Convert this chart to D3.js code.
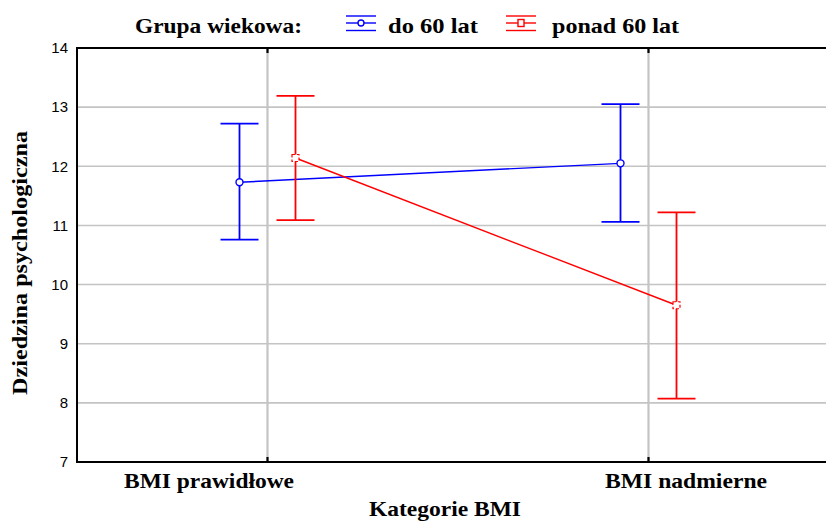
<!DOCTYPE html>
<html>
<head>
<meta charset="utf-8">
<script src="https://cdn.jsdelivr.net/npm/d3@7"></script>
<style>
  body { margin: 0; background: #fff; }
  svg { display: block; }
</style>
</head>
<body>
<div id="chart"></div>
<script>
// dane
const categories = ["BMI prawidłowe", "BMI nadmierne"];
const groups     = ["do 60 lat", "ponad 60 lat"];
const meanYoung  = [11.73, 12.05];
const lowYoung   = [10.76, 11.06];
const highYoung  = [12.72, 13.05];
const meanOld    = [12.14, 9.65];
const lowOld     = [11.09, 8.07];
const highOld    = [13.19, 11.22];
const yTicks     = [7, 8, 9, 10, 11, 12, 13, 14];

const WIDTH = 826, HEIGHT = 522;
const LEFT = 77, TOP = 48, BOTTOM = 462, RIGHT = 839;
const COLORS = ["#0000ff", "#ff0000"];
const OFFSET = [-28, 28];
const CAP = 19;

const svg = d3.select("#chart")
              .append("svg")
              .attr("width", WIDTH)
              .attr("height", HEIGHT);

const x = d3.scalePoint().domain(categories).range([LEFT, RIGHT]).padding(0.5);
const y = d3.scaleLinear().domain([7, 14]).range([BOTTOM, TOP]);

// siatka pozioma
svg.append("g")
   .selectAll("line")
   .data(yTicks.slice(1))
   .enter()
   .append("line")
       .attr("x1", LEFT).attr("x2", WIDTH)
       .attr("y1", d => y(d)).attr("y2", d => y(d))
       .attr("stroke", "#c4c4c4")
       .attr("stroke-width", 1.6);

// siatka pionowa
svg.append("g")
   .selectAll("line")
   .data(categories)
   .enter()
   .append("line")
       .attr("x1", d => x(d)).attr("x2", d => x(d))
       .attr("y1", TOP).attr("y2", BOTTOM)
       .attr("stroke", "#c4c4c4")
       .attr("stroke-width", 2.2);

// oś Y
const yAxis = d3.axisLeft(y).tickValues(yTicks).tickFormat(d3.format("d")).tickSize(0).tickPadding(9);
const gy = svg.append("g")
              .attr("transform", "translate(" + LEFT + ",0)")
              .call(yAxis);
gy.select(".domain").remove();
gy.selectAll("text")
  .attr("font-family", "Liberation Sans, Arial, sans-serif")
  .attr("font-size", 15)
  .attr("fill", "#000");

// ramka
svg.append("path")
   .attr("d", "M" + WIDTH + "," + TOP + "H" + LEFT + "V" + BOTTOM + "H" + WIDTH)
   .attr("fill", "none")
   .attr("stroke", "#000")
   .attr("stroke-width", 2);

// znaczniki kategorii na górze i dole
categories.forEach(c => {
    svg.append("line").attr("x1", x(c)).attr("x2", x(c)).attr("y1", TOP).attr("y2", TOP + 5)
       .attr("stroke", "#000").attr("stroke-width", 2.2);
    svg.append("line").attr("x1", x(c)).attr("x2", x(c)).attr("y1", BOTTOM - 5).attr("y2", BOTTOM)
       .attr("stroke", "#000").attr("stroke-width", 2.2);
});

// serie
const series = [
    { name: groups[0], mean: meanYoung, low: lowYoung, high: highYoung },
    { name: groups[1], mean: meanOld,   low: lowOld,   high: highOld }
];

series.forEach((s, i) => {
    const g = svg.append("g");
    const color = COLORS[i];
    const px = c => x(c) + OFFSET[i];

    // linia łącząca średnie
    g.append("path")
     .datum(categories)
     .attr("d", d3.line().x(c => px(c)).y((c, k) => y(s.mean[k])))
     .attr("fill", "none")
     .attr("stroke", color)
     .attr("stroke-width", 1.4);

    // słupki błędów
    categories.forEach((c, k) => {
        g.append("line").attr("x1", px(c)).attr("x2", px(c))
         .attr("y1", y(s.low[k])).attr("y2", y(s.high[k]))
         .attr("stroke", color).attr("stroke-width", 1.8);
        [s.low[k], s.high[k]].forEach(v => {
            g.append("line").attr("x1", px(c) - CAP).attr("x2", px(c) + CAP)
             .attr("y1", y(v)).attr("y2", y(v))
             .attr("stroke", color).attr("stroke-width", 1.8);
        });
        if (i === 0) {
            g.append("circle").attr("cx", px(c)).attr("cy", y(s.mean[k])).attr("r", 3.5)
             .attr("fill", "#fff").attr("stroke", color).attr("stroke-width", 1.4);
        } else {
            g.append("rect").attr("x", px(c) - 3.5).attr("y", y(s.mean[k]) - 3.5)
             .attr("width", 7).attr("height", 7)
             .attr("fill", "#fff").attr("stroke", color).attr("stroke-width", 1.2)
             .attr("stroke-dasharray", "3,2");
        }
    });
});

// legenda
const serif = "Liberation Serif, Times New Roman, serif";
svg.append("text").attr("x", 135).attr("y", 33)
   .attr("font-family", serif).attr("font-weight", "bold").attr("font-size", 22)
   .attr("textLength", 167).attr("lengthAdjust", "spacingAndGlyphs")
   .text("Grupa wiekowa:");

const legendX = [346, 506];
const legendTextX = [388, 552];
const legendLen = [90, 127];
groups.forEach((name, i) => {
    const lx = legendX[i], color = COLORS[i];
    const lg = svg.append("g").attr("stroke", color).attr("stroke-width", 1.4).attr("fill", "#fff");
    lg.append("line").attr("x1", lx).attr("x2", lx + 30).attr("y1", 16).attr("y2", 16);
    lg.append("line").attr("x1", lx).attr("x2", lx + 30).attr("y1", 30.5).attr("y2", 30.5);
    lg.append("line").attr("x1", lx).attr("x2", lx + 12).attr("y1", 23).attr("y2", 23);
    lg.append("line").attr("x1", lx + 18).attr("x2", lx + 30).attr("y1", 23).attr("y2", 23);
    if (i === 0) {
        lg.append("circle").attr("cx", lx + 15).attr("cy", 23).attr("r", 3);
    } else {
        lg.append("rect").attr("x", lx + 12).attr("y", 19.5).attr("width", 6).attr("height", 7);
    }
    svg.append("text").attr("x", legendTextX[i]).attr("y", 33)
       .attr("font-family", serif).attr("font-weight", "bold").attr("font-size", 22)
       .attr("textLength", legendLen[i]).attr("lengthAdjust", "spacingAndGlyphs")
       .text(name);
});

// etykiety kategorii
const labelStart = [124, 605];
const labelLen = [170, 162];
categories.forEach((c, k) => {
    svg.append("text").attr("x", labelStart[k]).attr("y", 488)
       .attr("font-family", serif).attr("font-weight", "bold").attr("font-size", 21)
       .attr("textLength", labelLen[k]).attr("lengthAdjust", "spacingAndGlyphs")
       .text(c);
});

svg.append("text").attr("x", 369).attr("y", 516)
   .attr("font-family", serif).attr("font-weight", "bold").attr("font-size", 21)
   .attr("textLength", 152).attr("lengthAdjust", "spacingAndGlyphs")
   .text("Kategorie BMI");

svg.append("text")
   .attr("transform", "translate(27,263) rotate(-90)")
   .attr("text-anchor", "middle")
   .attr("font-family", serif).attr("font-weight", "bold").attr("font-size", 20)
   .attr("textLength", 264).attr("lengthAdjust", "spacingAndGlyphs")
   .text("Dziedzina psychologiczna");
</script>
</body>
</html>
